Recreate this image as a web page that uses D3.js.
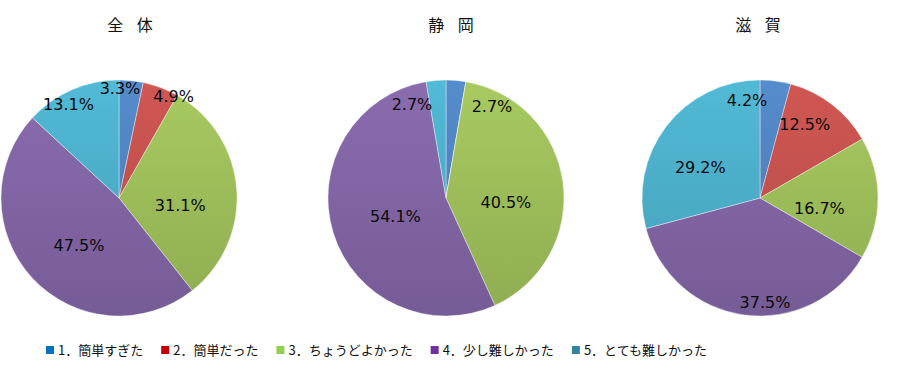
<!DOCTYPE html>
<html>
<head>
<meta charset="utf-8">
<script src="https://cdn.jsdelivr.net/npm/d3@7"></script>
<style>
body { margin: 0; background: #fff; }
svg { display: block; }
</style>
</head>
<body>
<script>
// answer categories (legend order = slice order, clockwise from 12 o'clock)
var categories = ["1．簡単すぎた", "2．簡単だった", "3．ちょうどよかった", "4．少し難しかった", "5．とても難しかった"];
var groups = ["全 体", "静 岡", "滋 賀"];

// percentages per group
var zentai = [3.3, 4.9, 31.1, 47.5, 13.1];
var shizuoka = [2.7, 0, 40.5, 54.1, 2.7];
var shiga = [4.2, 12.5, 16.7, 37.5, 29.2];
var allValues = [zentai, shizuoka, shiga];

// look
var sliceColors = ["#4F81BD", "#C0504D", "#9BBB59", "#8064A2", "#4BACC6"];
var legendColors = ["#0070C0", "#C00000", "#92D050", "#7030A0", "#31859C"];

var w = 918;
var h = 383;
var r = 118;
var pieCx = [119, 446, 760];
var pieCy = 198;
var titleX = [130, 451, 758];

// excel "best fit" label shifts, from rule-based spot
var labelNudge = [
	[[-10, -4], [17, -2], [0, 12], [5, 6], [-8, 4]],
	[[37, 14], [0, 0], [-1, 12], [8, 0], [-25, 12]],
	[[-27, 8], [-20, 10], [-2, 10], [13, 43], [-11, 7]]
];

var svg = d3.select("body")
	.append("svg")
	.attr("width", w)
	.attr("height", h);

var defs = svg.append("defs");

var pie = d3.pie().sort(null).startAngle(0).endAngle(2 * Math.PI);
var arc = d3.arc().innerRadius(0).outerRadius(r);

allValues.forEach(function(vals, g) {
	// one vertical gradient per colour per pie, spanning the whole disc
	sliceColors.forEach(function(c, i) {
		var grad = defs.append("linearGradient")
			.attr("id", "g" + g + "_" + i)
			.attr("gradientUnits", "userSpaceOnUse")
			.attr("x1", 0).attr("x2", 0)
			.attr("y1", -r).attr("y2", r);
		grad.append("stop").attr("offset", 0).attr("stop-color", d3.color(c).brighter(0.22));
		grad.append("stop").attr("offset", 1).attr("stop-color", d3.color(c).darker(0.22));
	});

	var chart = svg.append("g")
		.attr("transform", "translate(" + pieCx[g] + "," + pieCy + ")");

	var arcs = pie(vals);

	chart.selectAll("path")
		.data(arcs)
		.enter()
		.append("path")
		.attr("d", arc)
		.attr("fill", function(d, i) { return "url(#g" + g + "_" + i + ")"; })
		.attr("stroke", "#fff")
		.attr("stroke-opacity", 0.5)
		.attr("stroke-width", 0.75);

	chart.selectAll("text")
		.data(arcs.filter(function(d) { return d.value > 0; }))
		.enter()
		.append("text")
		.attr("transform", function(d) {
			var mid = (d.startAngle + d.endAngle) / 2;
			var k = (d.value < 15) ? 0.9 : 0.52;
			var p = d3.pointRadial(mid, k * r);
			var n = labelNudge[g][d.index];
			return "translate(" + (p[0] + n[0]) + "," + (p[1] + n[1]) + ")";
		})
		.attr("text-anchor", "middle")
		.attr("dy", "0.36em")
		.attr("font-family", "'DejaVu Sans', Verdana, sans-serif")
		.attr("font-size", 16)
		.attr("fill", "#0a0a0a")
		.text(function(d) { return d.value.toFixed(1) + "%"; });

	svg.append("text")
		.attr("x", titleX[g])
		.attr("y", 31)
		.attr("text-anchor", "middle")
		.attr("font-family", "'Noto Sans CJK JP', sans-serif")
		.attr("font-size", 16)
		.attr("word-spacing", 10)
		.attr("fill", "#111")
		.text(groups[g]);
});

// legend
var legend = svg.append("g").attr("transform", "translate(46,350)");
var lx = 0;
categories.forEach(function(name, i) {
	var item = legend.append("g").attr("transform", "translate(" + lx + ",0)");
	item.append("rect")
		.attr("x", 0)
		.attr("y", -4)
		.attr("width", 8)
		.attr("height", 8)
		.attr("fill", legendColors[i]);
	var t = item.append("text")
		.attr("x", 12)
		.attr("dy", "0.35em")
		.attr("font-family", "'Noto Sans CJK JP', sans-serif")
		.attr("font-size", 13)
		.attr("fill", "#111")
		.text(name);
	lx += 12 + t.node().getComputedTextLength() + 18;
});
</script>
</body>
</html>
